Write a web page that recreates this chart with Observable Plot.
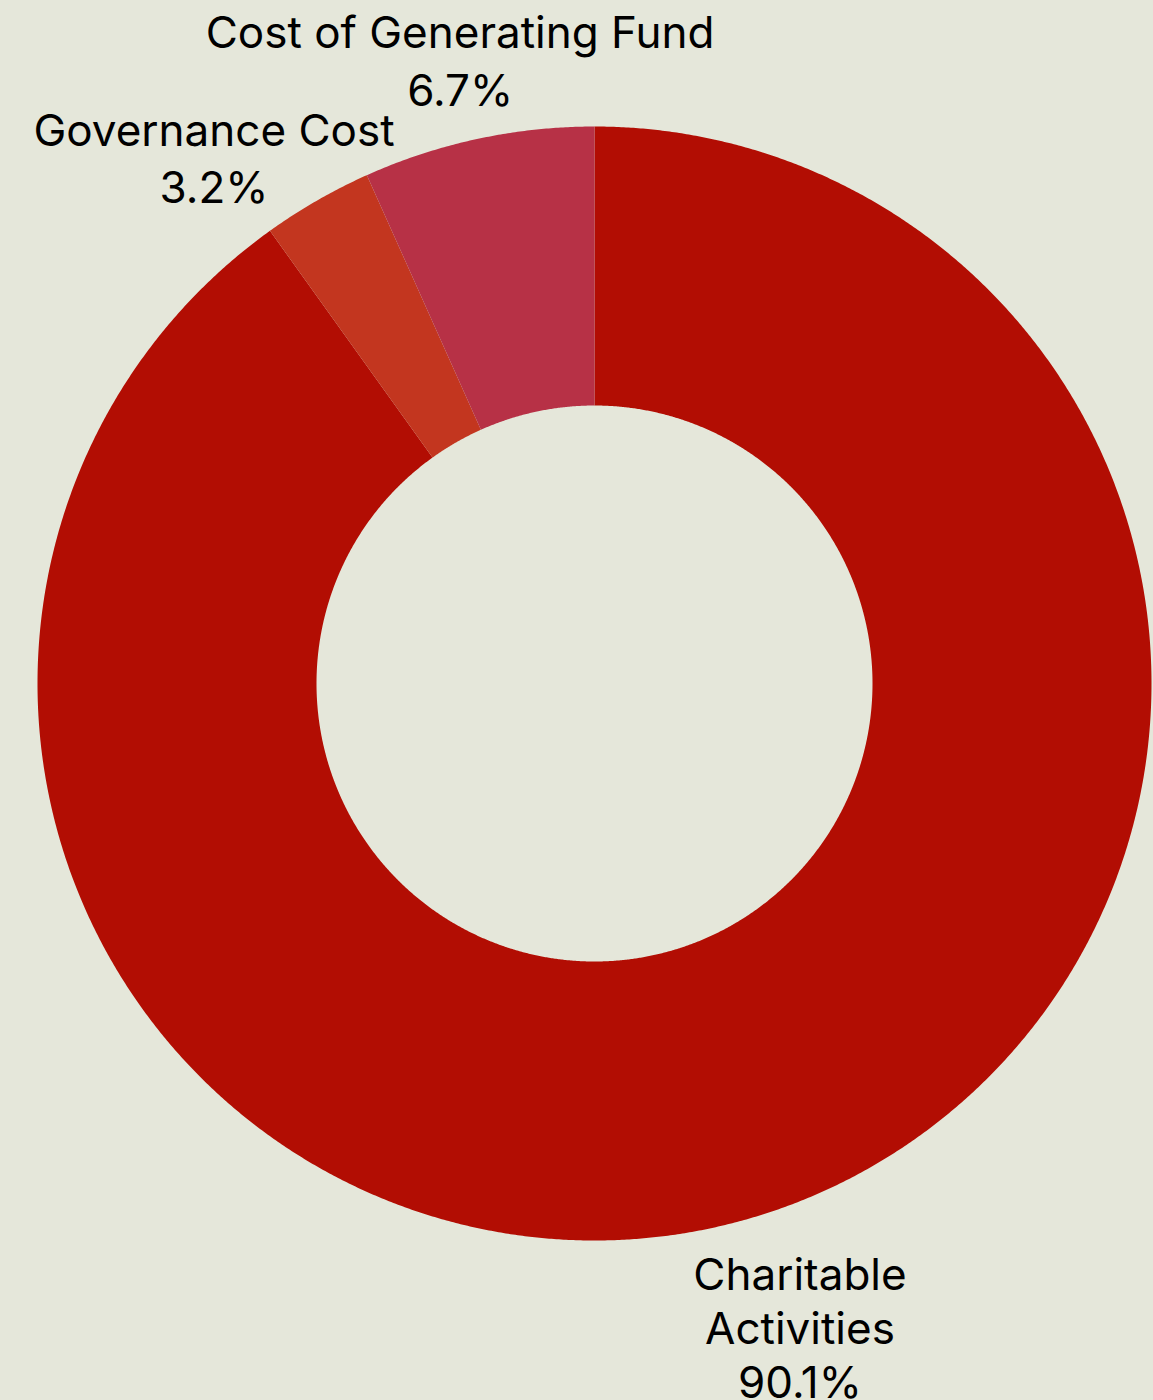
<!DOCTYPE html>
<html><head><meta charset="utf-8">
<script src="https://cdn.jsdelivr.net/npm/d3@7"></script>
<script src="https://cdn.jsdelivr.net/npm/@observablehq/plot@0.6"></script>
<style>html,body{margin:0;padding:0;background:#e5e7da;}</style>
</head><body><div id="chart"></div>
<script>
// ---- data ----
const categories = ["Charitable Activities", "Governance Cost", "Cost of Generating Fund"];
const values = [90.1, 3.2, 6.7];
const labelNames = ["Charitable\nActivities", "Governance Cost", "Cost of Generating Fund"];
const colors = ["#b20d03", "#c3361f", "#b73146"];

// ---- layout / style ----
const W = 1153, H = 1400;
const cx = 594, cy = 683, R = 557, R0 = 278;
const fontSize = 44;
// dx: horizontal shift of label centre; base: first baseline offset from the arc's mid point
const labelStyle = {
  "Charitable Activities":   {dx: 35,   base: 76,   lineHeight: 1.23},
  "Governance Cost":         {dx: -103, base: -54.5, lineHeight: 1.295},
  "Cost of Generating Fund": {dx: -18,  base: -91.3, lineHeight: 1.34}
};

const arcs = d3.pie().sort(null).startAngle(0).endAngle(2 * Math.PI)(values);
const inner = R0 / R;
const step = Math.PI / 720;
const polys = [];
const slices = arcs.map((a, i) => ({
  name: categories[i],
  label: `${labelNames[i]}\n${values[i].toFixed(1)}%`,
  mid: (a.startAngle + a.endAngle) / 2
}));
arcs.forEach((a, i) => {
  const n = Math.max(2, Math.ceil((a.endAngle - a.startAngle) / step));
  for (let k = 0; k <= n; k++) {
    const t = a.startAngle + (a.endAngle - a.startAngle) * k / n;
    polys.push({name: categories[i], x: Math.sin(t), y: Math.cos(t)});
  }
  for (let k = n; k >= 0; k--) {
    const t = a.startAngle + (a.endAngle - a.startAngle) * k / n;
    polys.push({name: categories[i], x: inner * Math.sin(t), y: inner * Math.cos(t)});
  }
});

const textMarks = slices.map(s => {
  const st = labelStyle[s.name];
  return Plot.text([s], {
    x: d => Math.sin(d.mid),
    y: d => Math.cos(d.mid),
    text: "label",
    dx: st.dx,
    dy: st.base - 0.71 * st.lineHeight * fontSize,
    lineHeight: st.lineHeight,
    lineAnchor: "top",
    textAnchor: "middle",
    fontSize,
    fontFamily: "Inter",
    fill: "#000"
  });
});

const chart = Plot.plot({
  width: W, height: H,
  margin: 0,
  style: {background: "#e5e7da", fontFamily: "Inter"},
  x: {domain: [-cx / R, (W - cx) / R], range: [0, W], axis: null},
  y: {domain: [-(H - cy) / R, cy / R], range: [H, 0], axis: null},
  color: {domain: categories, range: colors},
  marks: [
    Plot.line(polys, {x: "x", y: "y", z: "name", fill: "name", stroke: "none", curve: "linear"}),
    ...textMarks
  ]
});
document.getElementById("chart").appendChild(chart);
</script>
</body></html>
